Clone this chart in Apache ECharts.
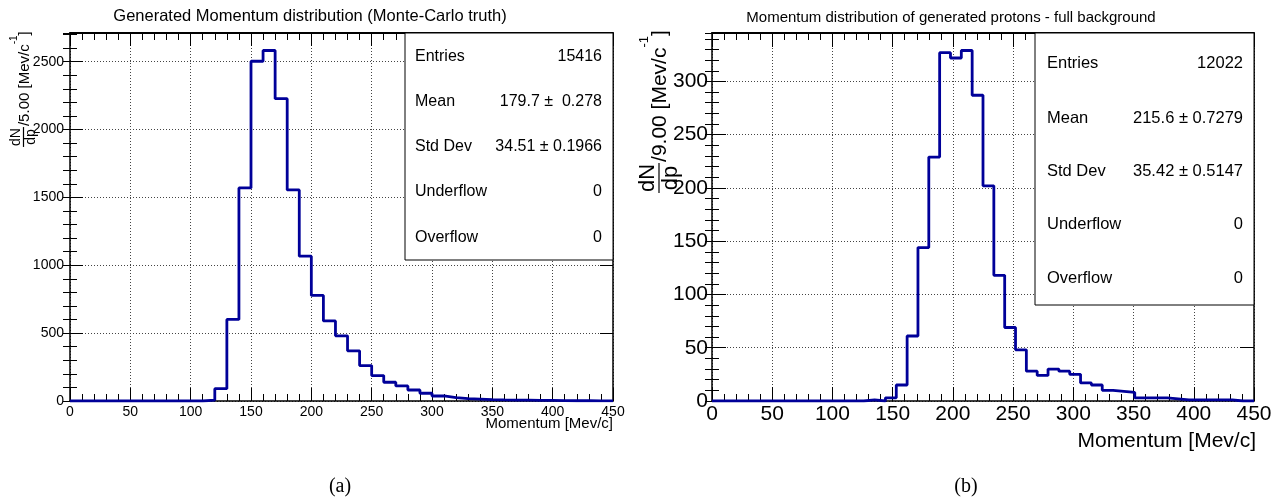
<!DOCTYPE html>
<html>
<head>
<meta charset="utf-8">
<script src="https://cdn.jsdelivr.net/npm/echarts@6/dist/echarts.min.js"></script>
<style>
  html, body { margin: 0; padding: 0; background: #fff; }
  #chart { width: 1283px; height: 499px; }
</style>
</head>
<body>
<div id="chart"></div>
<script>
// ---- Data -------------------------------------------------------------
// Momentum range shared by both histograms [MeV/c]
const xMin = 0;
const xMax = 450;

// (a) Monte-Carlo truth: 45 bins of 10 MeV/c
const binWidthA = 10;
const countsA = [
  0, 0, 0, 0, 0, 0, 0, 0, 0, 0,
  0, 7, 91, 601, 1570, 2503, 2582, 2227, 1555, 1067,
  778, 590, 480, 370, 261, 187, 138, 111, 81, 57,
  37, 25, 17, 14, 10, 8, 7, 6, 5, 4,
  3, 2, 2, 1, 1
];

// (b) generated protons with full background: 50 bins of 9 MeV/c
const binWidthB = 9;
const countsB = [
  0, 0, 0, 0, 0, 0, 0, 0, 0, 0,
  0, 0, 0, 0, 1, 0, 3, 15, 61, 144,
  229, 327, 322, 329, 287, 202, 118, 69, 48, 28,
  24, 30, 28, 25, 17, 15, 10, 9, 8, 3,
  3, 3, 2, 1, 1, 1, 1, 1, 0, 0
];

// Tick spacing
const xMajorStep = 50;
const yMajorStepA = 500, yMinorStepA = 100;
const yMajorStepB = 50, yMinorStepB = 10;

// Titles and labels
const titleA = 'Generated Momentum distribution (Monte-Carlo truth)';
const titleB = 'Momentum distribution of generated protons - full background';
const xTitle = 'Momentum [Mev/c]';
const yDenomA = '/5.00 [Mev/c';
const yDenomB = '/9.00 [Mev/c';
const captionA = '(a)';
const captionB = '(b)';

// Statistics boxes
const statsNames = ['Entries', 'Mean', 'Std Dev', 'Underflow', 'Overflow'];
const statsValuesA = ['15416', '179.7 \u00b1  0.278', '34.51 \u00b1 0.1966', '0', '0'];
const statsValuesB = ['12022', '215.6 \u00b1 0.7279', '35.42 \u00b1 0.5147', '0', '0'];

// ---- Helpers ----------------------------------------------------------
const FONT = "'Liberation Sans', Arial, Helvetica, sans-serif";
const SERIF = "'Liberation Serif', 'DejaVu Serif', serif";
const HIST_COLOR = '#000099';

// Step outline points: one point per bin lower edge plus the closing edge
function histPoints(counts, width) {
  const pts = counts.map((c, i) => [i * width, c]);
  pts.push([counts.length * width, counts[counts.length - 1]]);
  return pts;
}

// Axis range as ROOT draws it: 5% head-room above the tallest bin
const yMaxA = Math.max(...countsA) * 1.05;
const yMaxB = Math.max(...countsB) * 1.05;

const plainNumber = v => String(Math.round(v));
const gridLine = { show: true, lineStyle: { color: '#444', width: 1, type: [1, 2] } };

function xAxes(g, p) {
  const common = {
    gridIndex: g, type: 'value', min: xMin, max: xMax, interval: xMajorStep,
    axisTick: { show: true, inside: true, length: p.major, lineStyle: { color: '#000', width: 1 } },
    minorTick: { show: true, splitNumber: 5, length: p.minor, lineStyle: { color: '#000', width: 1 } },
    minorSplitLine: { show: false }
  };
  return [
    Object.assign({}, common, {
      position: 'bottom',
      axisLine: { show: true, onZero: false, lineStyle: { color: '#000', width: 1.5 } },
      axisLabel: { show: true, fontSize: p.fs, fontFamily: FONT, color: '#000', margin: p.xMargin,
                   formatter: plainNumber, showMinLabel: true, showMaxLabel: true, hideOverlap: false },
      splitLine: gridLine
    }),
    Object.assign({}, common, {
      position: 'top',
      axisLine: { show: true, onZero: false, lineStyle: { color: '#000', width: 2 } },
      axisLabel: { show: false },
      splitLine: { show: false }
    })
  ];
}

function yAxes(g, p, yMax, majorStep, minorStep) {
  const common = {
    gridIndex: g, type: 'value', min: 0, max: yMax,
    axisLine: { show: true, onZero: false, lineStyle: { color: '#000', width: 1.5 } }
  };
  const major = Object.assign({}, common, {
    interval: majorStep,
    axisTick: { show: true, inside: true, length: p.major, lineStyle: { color: '#000', width: 1 } }
  });
  const minor = Object.assign({}, common, {
    interval: minorStep,
    axisLine: { show: false },
    axisLabel: { show: false },
    splitLine: { show: false },
    axisTick: { show: true, inside: true, length: p.minor, lineStyle: { color: '#000', width: 1 } }
  });
  return [
    Object.assign({}, major, {
      position: 'left',
      axisLabel: { show: true, fontSize: p.fs, fontFamily: FONT, color: '#000', margin: p.yMargin,
                   formatter: plainNumber, showMinLabel: true, showMaxLabel: false, hideOverlap: false },
      splitLine: gridLine
    }),
    Object.assign({}, major, { position: 'right', axisLabel: { show: false }, splitLine: { show: false } }),
    Object.assign({}, minor, { position: 'left' }),
    Object.assign({}, minor, { position: 'right' })
  ];
}

// Rotated y-axis title with a dN/dp fraction
const measureCtx = document.createElement('canvas').getContext('2d');
function textWidth(t, fs) {
  measureCtx.font = fs + 'px ' + FONT;
  return measureCtx.measureText(t).width;
}
function txt(t, x, y, fs, align, vAlign) {
  return {
    type: 'text', x: x, y: y,
    style: { text: t, fontSize: fs, fontFamily: FONT, fill: '#000',
             align: align, textAlign: align, verticalAlign: vAlign, textVerticalAlign: vAlign }
  };
}
function yTitle(cx, cy, fracFs, mainFs, supFs, supShift, denom) {
  const fw = Math.max(textWidth('dN', fracFs), textWidth('dp', fracFs)) + 2;
  const mainX = fw / 2 + 1;
  const mainW = textWidth(denom, mainFs);
  const supW = textWidth('-1', supFs);
  return {
    type: 'group', x: cx, y: cy, rotation: Math.PI / 2, z: 100,
    children: [
      txt('dN', 0, -0.5, fracFs, 'center', 'bottom'),
      { type: 'line', shape: { x1: -fw / 2, y1: 0, x2: fw / 2, y2: 0 }, style: { stroke: '#000', lineWidth: 1.2 } },
      txt('dp', 0, 0.5, fracFs, 'center', 'top'),
      txt(denom, mainX, 1, mainFs, 'left', 'middle'),
      txt('-1', mainX + mainW, 1 - supShift, supFs, 'left', 'middle'),
      txt(']', mainX + mainW + supW, 1, mainFs, 'left', 'middle')
    ]
  };
}

function statsBox(x, y, w, h, rowsY, padL, padR, fs, values) {
  const els = [{
    type: 'rect', z: 100,
    shape: { x: x, y: y, width: w, height: h },
    style: { fill: '#fff', stroke: '#000', lineWidth: 1 }
  }];
  statsNames.forEach((name, i) => {
    const a = txt(name, x + padL, rowsY[i], fs, 'left', 'middle'); a.z = 101; els.push(a);
    const b = txt(values[i], x + w - padR, rowsY[i], fs, 'right', 'middle'); b.z = 101; els.push(b);
  });
  return els;
}

// ---- Layout -----------------------------------------------------------
const panelA = { fs: 14, xMargin: 4, yMargin: 6, major: 13, minor: 7 };
const panelB = { fs: 21, xMargin: 3, yMargin: 4, major: 14, minor: 7 };

const xAxisList = [].concat(xAxes(0, panelA), xAxes(1, panelB));
const yAxisList = [].concat(
  yAxes(0, panelA, yMaxA, yMajorStepA, yMinorStepA),
  yAxes(1, panelB, yMaxB, yMajorStepB, yMinorStepB)
);

const graphics = [
  txt(titleA, 310, 16.5, 16.5, 'center', 'middle'),
  txt(titleB, 951, 17.5, 15, 'center', 'middle'),
  txt(xTitle, 613, 424, 15, 'right', 'middle'),
  txt(xTitle, 1256, 441, 21, 'right', 'middle'),
  yTitle(23.5, 137, 14, 15, 10, 10, yDenomA),
  yTitle(659, 178, 22, 21, 13, 16, yDenomB),
  { type: 'text', x: 340, y: 487, style: { text: captionA, fontSize: 20, fontFamily: SERIF, fill: '#000',
      align: 'center', textAlign: 'center', verticalAlign: 'middle', textVerticalAlign: 'middle' } },
  { type: 'text', x: 966, y: 487, style: { text: captionB, fontSize: 20, fontFamily: SERIF, fill: '#000',
      align: 'center', textAlign: 'center', verticalAlign: 'middle', textVerticalAlign: 'middle' } }
].concat(
  statsBox(405, 33, 208, 227, [57, 102, 146.5, 192, 238], 10, 11, 16, statsValuesA),
  statsBox(1035, 33, 219, 272, [63, 118, 171, 224, 278], 12, 11, 16.5, statsValuesB)
);

const option = {
  backgroundColor: '#fff',
  animation: false,
  grid: [
    { left: 70, top: 33, width: 543, height: 368, containLabel: false, outerBoundsMode: 'none' },
    { left: 712, top: 33, width: 542, height: 368, containLabel: false, outerBoundsMode: 'none' }
  ],
  xAxis: xAxisList,
  yAxis: yAxisList,
  series: [
    {
      type: 'line', xAxisIndex: 0, yAxisIndex: 0, step: 'end', symbol: 'none',
      data: histPoints(countsA, binWidthA),
      lineStyle: { color: HIST_COLOR, width: 2.8 }, z: 5
    },
    {
      type: 'line', xAxisIndex: 2, yAxisIndex: 4, step: 'end', symbol: 'none',
      data: histPoints(countsB, binWidthB),
      lineStyle: { color: HIST_COLOR, width: 2.8 }, z: 5
    }
  ],
  graphic: { elements: graphics }
};

const chart = echarts.init(document.getElementById('chart'));
chart.setOption(option);
</script>
</body>
</html>
